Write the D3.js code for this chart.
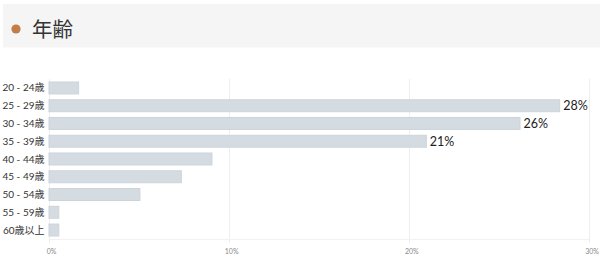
<!DOCTYPE html>
<html>
<head>
<meta charset="utf-8">
<script src="https://cdn.jsdelivr.net/npm/d3@7"></script>
<style>
  body { margin: 0; background: #fff; }
  svg { display: block; font-family: Lato, "Noto Sans CJK JP", sans-serif; }
</style>
</head>
<body>
<div class="container"></div>
<script>
const title = "年齢";
const categories = ["20 - 24歳", "25 - 29歳", "30 - 34歳", "35 - 39歳", "40 - 44歳", "45 - 49歳", "50 - 54歳", "55 - 59歳", "60歳以上"];
const values = [1.7, 28.4, 26.2, 21.0, 9.1, 7.4, 5.1, 0.6, 0.6];
const shownLabels = [false, true, true, true, false, false, false, false, false];
const ticks = [0, 10, 20, 30];

const width = 600, height = 272;
const margin = {top: 79, right: 11, bottom: 33, left: 48.5};

const svg = d3.select(".container")
  .append("svg")
    .attr("width", width)
    .attr("height", height);

// header band
svg.append("rect")
  .attr("x", 3).attr("y", 4)
  .attr("width", width - 3).attr("height", 43.5)
  .attr("fill", "#f5f5f5");

svg.append("circle")
  .attr("cx", 16).attr("cy", 29).attr("r", 4.6)
  .attr("fill", "#c47c48");

svg.append("text")
  .attr("x", 32).attr("y", 37)
  .attr("font-family", "'Noto Sans CJK JP', sans-serif")
  .attr("font-size", 20.5)
  .attr("fill", "#333")
  .text(title);

const x = d3.scaleLinear()
  .domain([0, 30])
  .range([margin.left, width - margin.right]);

const y = d3.scaleBand()
  .domain(categories)
  .range([margin.top, height - margin.bottom])
  .paddingInner(0.27)
  .paddingOuter(0.14);

// grid
svg.append("g")
  .selectAll("line")
  .data(ticks)
  .join("line")
    .attr("x1", d => Math.round(x(d)) + 0.5)
    .attr("x2", d => Math.round(x(d)) + 0.5)
    .attr("y1", margin.top)
    .attr("y2", height - margin.bottom + 4)
    .attr("stroke", "#eeeeee");

svg.append("line")
  .attr("x1", x(0)).attr("x2", x(30))
  .attr("y1", height - margin.bottom + 0.5)
  .attr("y2", height - margin.bottom + 0.5)
  .attr("stroke", "#f2f2f2");

// tick labels
svg.append("g")
  .selectAll("text")
  .data(ticks)
  .join("text")
    .attr("x", d => x(d) + 3)
    .attr("y", height - margin.bottom + 15)
    .attr("text-anchor", "middle")
    .attr("font-size", 7)
    .attr("fill", "#888")
    .text(d => d + "%");

// category labels
svg.append("g")
  .selectAll("text")
  .data(categories)
  .join("text")
    .attr("x", margin.left - 4)
    .attr("y", d => y(d) + y.bandwidth() / 2)
    .attr("dy", "0.35em")
    .attr("text-anchor", "end")
    .attr("font-size", 10)
    .attr("fill", "#333")
    .text(d => d);

// bars
svg.append("g")
  .selectAll("rect")
  .data(values)
  .join("rect")
    .attr("x", x(0) + 0.5)
    .attr("y", (d, i) => y(categories[i]) + 0.5)
    .attr("width", d => x(d) - x(0) - 1)
    .attr("height", y.bandwidth() - 1)
    .attr("fill", "#d4dbe1")
    .attr("stroke", "#ccd4db")
    .attr("stroke-width", 1);

// value labels
svg.append("g")
  .selectAll("text")
  .data(values.map((v, i) => ({v, i})).filter(d => shownLabels[d.i]))
  .join("text")
    .attr("x", d => x(d.v) + 3)
    .attr("y", d => y(categories[d.i]) + y.bandwidth() / 2)
    .attr("dy", "0.36em")
    .attr("font-size", 12.5)
    .attr("fill", "#222")
    .text(d => Math.round(d.v) + "%");
</script>
</body>
</html>
